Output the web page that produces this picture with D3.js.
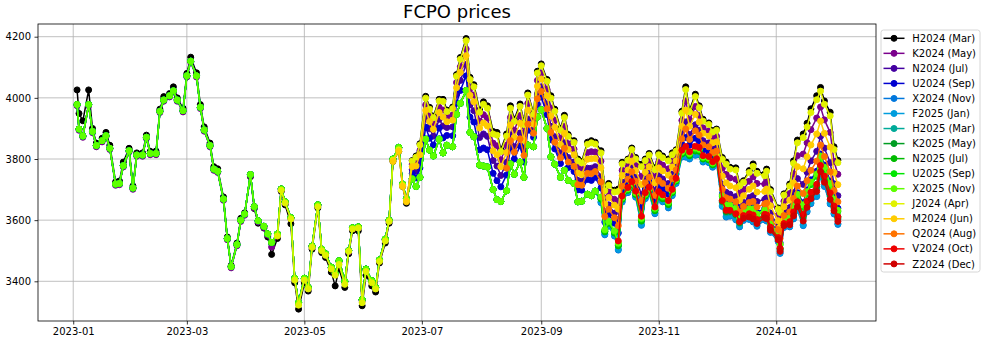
<!DOCTYPE html>
<html><head><meta charset="utf-8">
<script src="https://cdn.jsdelivr.net/npm/d3@7"></script>
<style>body{margin:0;background:#fff;} svg{display:block;font-family:"DejaVu Sans",sans-serif;}</style>
</head><body><svg id="chart" width="989" height="347"></svg>
<script>
const dates = [
"2023-01-03","2023-01-04","2023-01-06","2023-01-09","2023-01-11","2023-01-13","2023-01-16","2023-01-18","2023-01-20","2023-01-23","2023-01-25","2023-01-27","2023-01-30",
"2023-02-01","2023-02-03","2023-02-06","2023-02-08","2023-02-10","2023-02-13","2023-02-15","2023-02-17","2023-02-20","2023-02-22","2023-02-24","2023-02-27",
"2023-03-01","2023-03-03","2023-03-06","2023-03-08","2023-03-10","2023-03-13","2023-03-15","2023-03-17","2023-03-20","2023-03-22","2023-03-24","2023-03-27","2023-03-29","2023-03-31",
"2023-04-03","2023-04-05","2023-04-07","2023-04-10","2023-04-12","2023-04-14","2023-04-17","2023-04-19","2023-04-21","2023-04-24","2023-04-26","2023-04-28",
"2023-05-01","2023-05-03","2023-05-05","2023-05-08","2023-05-10","2023-05-12","2023-05-15","2023-05-17","2023-05-19","2023-05-22","2023-05-24","2023-05-26","2023-05-29","2023-05-31",
"2023-06-02","2023-06-05","2023-06-07","2023-06-09","2023-06-12","2023-06-14","2023-06-16","2023-06-19","2023-06-21","2023-06-23","2023-06-26","2023-06-28","2023-06-30",
"2023-07-03","2023-07-05","2023-07-07","2023-07-10","2023-07-12","2023-07-14","2023-07-17","2023-07-19","2023-07-21","2023-07-24","2023-07-26","2023-07-28","2023-07-31",
"2023-08-02","2023-08-04","2023-08-07","2023-08-09","2023-08-11","2023-08-14","2023-08-16","2023-08-18","2023-08-21","2023-08-23","2023-08-25","2023-08-28","2023-08-30",
"2023-09-01","2023-09-04","2023-09-06","2023-09-08","2023-09-11","2023-09-13","2023-09-15","2023-09-18","2023-09-20","2023-09-22","2023-09-25","2023-09-27","2023-09-29",
"2023-10-02","2023-10-04","2023-10-06","2023-10-09","2023-10-11","2023-10-13","2023-10-16","2023-10-18","2023-10-20","2023-10-23","2023-10-25","2023-10-27","2023-10-30",
"2023-11-01","2023-11-03","2023-11-06","2023-11-08","2023-11-10","2023-11-13","2023-11-15","2023-11-17","2023-11-20","2023-11-22","2023-11-24","2023-11-27","2023-11-29",
"2023-12-01","2023-12-04","2023-12-06","2023-12-08","2023-12-11","2023-12-13","2023-12-15","2023-12-18","2023-12-20","2023-12-22","2023-12-26","2023-12-27","2023-12-29",
"2024-01-02","2024-01-03","2024-01-05","2024-01-08","2024-01-10","2024-01-12","2024-01-15","2024-01-17","2024-01-19","2024-01-22","2024-01-24","2024-01-26","2024-01-29","2024-01-31",
"2024-02-02"];

const seriesLabels = ["H2024 (Mar)","K2024 (May)","N2024 (Jul)","U2024 (Sep)","X2024 (Nov)","F2025 (Jan)","H2025 (Mar)","K2025 (May)","N2025 (Jul)","U2025 (Sep)","X2025 (Nov)","J2024 (Apr)","M2024 (Jun)","Q2024 (Aug)","V2024 (Oct)","Z2024 (Dec)"];
const seriesStarts = ["2023-01-03","2023-01-03","2023-01-03","2023-01-03","2023-01-03","2023-01-03","2023-01-03","2023-01-03","2023-01-03","2023-01-03","2023-01-03","2023-04-17","2023-06-16","2023-08-14","2023-10-11","2023-12-15"];
const seriesColors = ["#000000","#7b008c","#4400a1","#0000d0","#0077dd","#009ddd","#00aa99","#009d22","#00bb00","#00e600","#5eff00","#e1f200","#ffcc00","#ff7300","#ee0000","#d00000"];

const H2024 = [
4026,3949,3925,4026,3900,3852,3868,3887,3845,3725,3728,3790,3835,
3712,3820,3820,3878,3825,3826,3963,4004,4014,4036,4000,3966,
4080,4133,4082,3978,3905,3852,3775,3768,3676,3545,3452,3525,3606,3624,
3742,3638,3590,3574,3545,3488,3540,3694,3650,3588,3395,3309,
3395,3368,3505,3640,3494,3478,3430,3385,3440,3380,3490,3565,3565,3320,
3420,3385,3365,3460,3525,3590,3792,3825,3710,3655,
3795,3810,3850,
4005,3969,3940,3995,3995,3960,3970,4076,4132,4194,4067,4043,3960,
3987,3974,3890,3887,3831,3882,3974,3930,3980,3920,4016,3950,4087,
4111,4060,4007,3963,3900,3943,3880,3860,3800,3792,3855,3860,3855,
3827,3702,3720,3698,3702,3789,3800,3836,3805,3783,3800,3818,3771,
3820,3810,3800,3820,3830,3956,4036,3960,4012,3974,3930,3918,3893,
3898,3805,3790,3773,3771,3718,3729,3762,3784,3760,3751,3767,3700,
3640,3631,3686,3718,3794,3862,3882,3917,3964,4007,4034,3990,3953,3840,
3796];

const K2024 = [
3974,3894,3871,3974,3886,3840,3856,3872,3831,3714,3716,3774,3823,
3701,3809,3809,3867,3814,3814,3952,3989,4003,4019,3989,3954,
4068,4116,4068,3965,3891,3840,3763,3756,3665,3536,3444,3516,3596,3616,
3745,3640,3594,3576,3551,3512,3551,3698,3656,3604,3406,3326,
3406,3376,3511,3646,3501,3486,3442,3422,3463,3396,3496,3571,3574,3336,
3436,3398,3376,3466,3534,3596,3796,3834,3714,3666,
3783,3790,3828,
3977,3941,3914,3969,3960,3937,3944,4050,4102,4160,4031,4009,3924,
3945,3934,3852,3843,3797,3845,3936,3894,3942,3884,3982,3928,4057,
4081,4028,3967,3927,3868,3907,3850,3832,3772,3766,3821,3824,3823,
3793,3672,3692,3668,3662,3763,3778,3810,3779,3743,3774,3792,3741,
3790,3780,3768,3792,3808,3926,3990,3928,3972,3942,3902,3892,3869,
3874,3770,3750,3738,3734,3687,3700,3727,3742,3720,3718,3730,3669,
3616,3600,3662,3687,3752,3811,3816,3853,3896,3934,3970,3928,3887,3792,
3750];

const N2024 = [
3978,3898,3875,3978,3890,3844,3860,3876,3835,3718,3720,3778,3827,
3705,3813,3813,3871,3818,3818,3956,3993,4007,4023,3993,3958,
4072,4120,4072,3969,3895,3844,3767,3760,3669,3540,3448,3520,3600,3620,
3749,3644,3598,3580,3555,3527,3555,3702,3660,3608,3410,3330,
3410,3380,3515,3650,3505,3490,3446,3426,3467,3400,3500,3575,3578,3340,
3440,3402,3380,3470,3538,3600,3800,3838,3718,3670,
3765,3760,3795,
3935,3899,3875,3930,3908,3903,3905,4011,4057,4109,3977,3958,3870,
3882,3874,3795,3777,3746,3789,3879,3840,3885,3830,3931,3895,4012,
4036,3980,3907,3873,3820,3853,3805,3790,3730,3727,3770,3770,3775,
3742,3627,3650,3623,3602,3724,3745,3771,3740,3683,3735,3753,3696,
3745,3735,3720,3750,3775,3881,3921,3880,3912,3894,3860,3853,3833,
3838,3717,3691,3685,3677,3641,3658,3674,3680,3661,3668,3673,3623,
3580,3554,3626,3641,3690,3736,3717,3757,3794,3825,3874,3836,3788,3719,
3680];

const U2024 = [
3978,3898,3875,3978,3890,3844,3860,3876,3835,3718,3720,3778,3827,
3705,3813,3813,3871,3818,3818,3956,3993,4007,4023,3993,3958,
4072,4120,4072,3969,3895,3844,3767,3760,3669,3540,3448,3520,3600,3620,
3749,3644,3598,3580,3555,3527,3555,3702,3660,3608,3410,3330,
3410,3380,3515,3650,3505,3490,3446,3426,3467,3400,3500,3575,3578,3340,
3440,3402,3380,3470,3538,3600,3800,3838,3718,3670,
3752,3738,3771,
3904,3868,3846,3901,3869,3877,3876,3982,4024,4072,3937,3921,3830,
3836,3830,3753,3729,3709,3748,3837,3800,3843,3790,3894,3871,3979,
4003,3945,3863,3833,3785,3813,3772,3759,3699,3698,3733,3730,3740,
3705,3594,3619,3590,3558,3695,3721,3742,3711,3639,3706,3724,3663,
3712,3702,3685,3719,3751,3848,3870,3845,3868,3859,3829,3824,3807,
3816,3685,3655,3653,3643,3613,3632,3642,3642,3625,3638,3639,3595,
3558,3526,3604,3613,3652,3690,3657,3699,3732,3760,3816,3780,3728,3675,
3639];

const X2024 = [
3978,3898,3875,3978,3890,3844,3860,3876,3835,3718,3720,3778,3827,
3705,3813,3813,3871,3818,3818,3956,3993,4007,4023,3993,3958,
4072,4120,4072,3969,3895,3844,3767,3760,3669,3540,3448,3520,3600,3620,
3749,3644,3598,3580,3555,3527,3555,3702,3660,3608,3410,3330,
3410,3380,3515,3650,3505,3490,3446,3426,3467,3400,3500,3575,3578,3340,
3440,3402,3380,3470,3538,3600,3800,3838,3718,3670,
3735,3710,3740,
3865,3829,3810,3865,3820,3845,3840,3946,3982,4024,3887,3873,3780,
3777,3774,3700,3667,3661,3696,3784,3750,3790,3740,3846,3840,3937,
3961,3900,3807,3783,3740,3763,3730,3720,3660,3662,3685,3680,3695,
3657,3552,3580,3548,3502,3659,3690,3706,3675,3583,3670,3688,3621,
3670,3660,3640,3680,3720,3806,3806,3800,3812,3814,3790,3788,3773,
3788,3645,3610,3613,3601,3578,3599,3602,3594,3580,3601,3597,3560,
3530,3491,3576,3578,3604,3632,3582,3627,3654,3677,3744,3710,3653,3620,
3586];

const F2025 = [
3978,3898,3875,3978,3890,3844,3860,3876,3835,3718,3720,3778,3827,
3705,3813,3813,3871,3818,3818,3956,3993,4007,4023,3993,3958,
4072,4120,4072,3969,3895,3844,3767,3760,3669,3540,3448,3520,3600,3620,
3749,3644,3598,3580,3555,3527,3555,3702,3660,3608,3410,3330,
3410,3380,3515,3650,3505,3490,3446,3426,3467,3400,3500,3575,3578,3340,
3440,3402,3380,3470,3538,3600,3800,3838,3718,3670,
3735,3710,3740,
3865,3829,3810,3865,3820,3845,3840,3946,3982,4024,3887,3873,3780,
3777,3774,3700,3667,3661,3696,3784,3750,3790,3740,3846,3840,3937,
3961,3900,3807,3783,3740,3763,3730,3720,3660,3662,3685,3680,3695,
3660,3555,3583,3551,3505,3662,3693,3709,3678,3586,3673,3691,3624,
3673,3663,3643,3683,3723,3809,3809,3803,3815,3817,3793,3791,3776,
3791,3648,3613,3616,3604,3581,3602,3605,3597,3583,3604,3600,3563,
3533,3494,3579,3581,3607,3635,3585,3630,3657,3680,3747,3713,3656,3623,
3589];

const H2025 = [
3978,3898,3875,3978,3890,3844,3860,3876,3835,3718,3720,3778,3827,
3705,3813,3813,3871,3818,3818,3956,3993,4007,4023,3993,3958,
4072,4120,4072,3969,3895,3844,3767,3760,3669,3540,3448,3520,3600,3620,
3749,3644,3598,3580,3555,3527,3555,3702,3660,3608,3410,3330,
3410,3380,3515,3650,3505,3490,3446,3426,3467,3400,3500,3575,3578,3340,
3440,3402,3380,3470,3538,3600,3800,3838,3718,3670,
3735,3710,3740,
3865,3829,3810,3865,3820,3845,3840,3946,3982,4024,3887,3873,3780,
3777,3774,3700,3667,3661,3696,3784,3750,3790,3740,3846,3840,3937,
3961,3900,3807,3783,3740,3763,3730,3720,3660,3662,3685,3680,3695,
3669,3562,3590,3558,3516,3668,3698,3715,3684,3597,3679,3697,3631,
3680,3670,3651,3690,3728,3816,3822,3811,3826,3825,3800,3797,3781,
3797,3658,3624,3626,3615,3589,3609,3615,3609,3594,3613,3611,3571,
3539,3502,3585,3589,3619,3650,3606,3650,3679,3703,3767,3732,3677,3638,
3603];

const K2025 = [
3978,3898,3875,3978,3890,3844,3860,3876,3835,3718,3720,3778,3827,
3705,3813,3813,3871,3818,3818,3956,3993,4007,4023,3993,3958,
4072,4120,4072,3969,3895,3844,3767,3760,3669,3540,3448,3520,3600,3620,
3749,3644,3598,3580,3555,3527,3555,3702,3660,3608,3410,3330,
3410,3380,3515,3650,3505,3490,3446,3426,3467,3400,3500,3575,3578,3340,
3440,3402,3380,3470,3538,3600,3800,3838,3718,3670,
3735,3710,3740,
3865,3829,3810,3865,3820,3845,3840,3946,3982,4024,3887,3873,3780,
3777,3774,3700,3667,3661,3696,3784,3750,3790,3740,3846,3840,3937,
3961,3900,3807,3783,3740,3763,3730,3720,3660,3662,3685,3680,3695,
3671,3564,3592,3560,3519,3670,3700,3717,3686,3600,3681,3699,3633,
3682,3672,3654,3692,3730,3818,3825,3813,3829,3827,3802,3799,3783,
3800,3661,3628,3629,3618,3592,3612,3618,3613,3598,3616,3615,3574,
3541,3505,3587,3592,3623,3655,3612,3656,3685,3710,3773,3738,3683,3643,
3607];

const N2025 = [
3978,3898,3875,3978,3890,3844,3860,3876,3835,3718,3720,3778,3827,
3705,3813,3813,3871,3818,3818,3956,3993,4007,4023,3993,3958,
4072,4120,4072,3969,3895,3844,3767,3760,3669,3540,3448,3520,3600,3620,
3749,3644,3598,3580,3555,3527,3555,3702,3660,3608,3410,3330,
3410,3380,3515,3650,3505,3490,3446,3426,3467,3400,3500,3575,3578,3340,
3440,3402,3380,3470,3538,3600,3800,3838,3718,3670,
3735,3710,3740,
3865,3829,3810,3865,3820,3845,3840,3946,3982,4024,3887,3873,3780,
3777,3774,3700,3667,3661,3696,3784,3750,3790,3740,3846,3840,3937,
3961,3900,3807,3783,3740,3763,3730,3720,3660,3662,3685,3680,3695,
3669,3562,3590,3558,3516,3668,3698,3715,3684,3597,3679,3697,3631,
3680,3670,3651,3690,3728,3816,3822,3811,3826,3825,3800,3797,3781,
3801,3664,3632,3632,3621,3595,3615,3621,3617,3602,3619,3617,3577,
3543,3508,3589,3595,3627,3660,3618,3662,3691,3717,3779,3744,3689,3646,
3611];

const U2025 = [
3978,3898,3875,3978,3890,3844,3860,3876,3835,3718,3720,3778,3827,
3705,3813,3813,3871,3818,3818,3956,3993,4007,4023,3993,3958,
4072,4120,4072,3969,3895,3844,3767,3760,3669,3540,3448,3520,3600,3620,
3749,3644,3598,3580,3555,3527,3555,3702,3660,3608,3410,3330,
3410,3380,3515,3650,3505,3490,3446,3426,3467,3400,3500,3575,3578,3340,
3440,3402,3380,3470,3538,3600,3800,3838,3718,3670,
3735,3710,3740,
3865,3829,3810,3865,3820,3845,3840,3946,3982,4024,3887,3873,3780,
3777,3774,3700,3667,3661,3696,3784,3750,3790,3740,3846,3840,3937,
3961,3900,3807,3783,3740,3763,3730,3720,3660,3662,3685,3680,3695,
3674,3567,3594,3563,3522,3672,3701,3719,3688,3603,3683,3701,3636,
3685,3675,3656,3694,3731,3821,3829,3816,3832,3830,3804,3801,3785,
3810,3677,3646,3645,3635,3606,3625,3634,3632,3616,3631,3631,3588,
3552,3519,3598,3606,3642,3678,3642,3685,3716,3743,3802,3766,3713,3664,
3628];

const X2025 = [
3978,3898,3875,3978,3890,3844,3860,3876,3835,3718,3720,3778,3827,
3705,3813,3813,3871,3818,3818,3956,3993,4007,4023,3993,3958,
4072,4120,4072,3969,3895,3844,3767,3760,3669,3540,3448,3520,3600,3620,
3749,3644,3598,3580,3555,3527,3555,3702,3660,3608,3410,3330,
3410,3380,3515,3650,3505,3490,3446,3426,3467,3400,3500,3575,3578,3340,
3440,3402,3380,3470,3538,3600,3800,3838,3718,3670,
3735,3710,3740,
3865,3829,3810,3865,3820,3845,3840,3946,3982,4024,3887,3873,3780,
3777,3774,3700,3667,3661,3696,3784,3750,3790,3740,3846,3840,3937,
3961,3900,3807,3783,3740,3763,3730,3720,3660,3662,3685,3680,3695,
3676,3569,3596,3565,3525,3674,3703,3721,3690,3606,3685,3703,3639,
3688,3678,3659,3696,3733,3823,3833,3818,3836,3832,3806,3803,3787,
3813,3681,3650,3649,3639,3609,3628,3638,3637,3620,3634,3635,3591,
3554,3522,3600,3610,3647,3685,3650,3693,3724,3751,3810,3773,3720,3669,
3632];

const J2024 = [
3548,3698,3656,3604,3404,3322,
3404,3375,3511,3644,3500,3485,3440,3420,3455,3390,3498,3571,3574,3330,
3432,3395,3375,3465,3532,3596,3796,3830,3713,3664,
3793,3806,3846,
3999,3963,3935,3990,3988,3955,3965,4071,4126,4187,4060,4036,3953,
3979,3966,3882,3878,3824,3875,3966,3923,3972,3913,4009,3946,4081,
4105,4054,3999,3956,3894,3936,3874,3854,3794,3787,3848,3853,3849,
3820,3696,3714,3692,3694,3784,3796,3831,3800,3775,3795,3813,3765,
3814,3804,3794,3814,3826,3950,4027,3954,4004,3968,3924,3913,3888,
3894,3799,3783,3767,3764,3712,3724,3756,3776,3753,3745,3760,3694,
3636,3625,3682,3712,3786,3853,3870,3905,3952,3994,4022,3979,3941,3831,
3788];

const M2024 = [
3792,3825,3710,3660,
3775,3777,3814,
3959,3923,3897,3952,3937,3922,3927,4033,4083,4138,4008,3987,3901,
3918,3908,3827,3814,3775,3821,3911,3871,3917,3861,3960,3914,4038,
4062,4007,3941,3904,3847,3884,3831,3814,3754,3749,3799,3801,3802,
3771,3653,3674,3649,3636,3746,3764,3793,3762,3717,3757,3775,3722,
3771,3761,3747,3774,3794,3907,3960,3907,3946,3921,3884,3875,3853,
3856,3744,3722,3712,3706,3665,3680,3701,3712,3692,3694,3702,3647,
3598,3578,3644,3665,3722,3775,3768,3807,3846,3882,3924,3884,3839,3756,
3716];

const Q2024 = [
3770,3860,3822,3866,3812,3914,3884,3997,
4021,3964,3887,3855,3804,3835,3790,3776,3716,3714,3753,3752,3759,
3725,3612,3636,3608,3582,3711,3734,3758,3727,3663,3722,3740,3681,
3730,3720,3704,3736,3764,3866,3898,3864,3892,3878,3846,3840,3821,
3826,3701,3673,3669,3660,3627,3645,3658,3661,3643,3653,3656,3609,
3569,3540,3615,3627,3671,3712,3687,3729,3763,3793,3846,3808,3758,3697,
3660];

const V2024 = [
3532,3679,3707,3726,3695,3613,3690,3708,3643,
3693,3683,3664,3701,3737,3829,3841,3824,3842,3838,3811,3808,3791,
3801,3664,3632,3632,3621,3595,3615,3621,3617,3602,3619,3617,3577,
3543,3508,3589,3595,3627,3660,3618,3662,3691,3717,3779,3744,3689,3646,
3611];

const Z2024 = [
3606,3610,3604,3589,3608,3605,3567,
3536,3498,3582,3585,3614,3644,3597,3642,3670,3694,3759,3724,3668,3631,
3596];

const yTicks = [3400, 3600, 3800, 4000, 4200];
const xTickLabels = ["2023-01","2023-03","2023-05","2023-07","2023-09","2023-11","2024-01"];
const chartTitle = "FCPO prices";

// ---- build ----
const seriesValues = [H2024,K2024,N2024,U2024,X2024,F2025,H2025,K2025,N2025,U2025,X2025,J2024,M2024,Q2024,V2024,Z2024];
const parse = d3.utcParse("%Y-%m-%d");
const dateObjs = dates.map(parse);
const series = seriesLabels.map((name, i) => {
  const s = dates.indexOf(seriesStarts[i]);
  const vals = seriesValues[i];
  if (s + vals.length !== dates.length) console.warn(name, s + vals.length, dates.length);
  return {name, color: seriesColors[i],
    points: vals.map((v, k) => ({date: dateObjs[s + k], value: v})).filter(p => p.date)};
});

const L = 38, R = 876, T = 24, B = 321;
const svg = d3.select("#chart");
const x = d3.scaleUtc()
  .domain([new Date(Date.UTC(2022, 11, 13, 17)), new Date(Date.UTC(2024, 1, 21, 19))])
  .range([L, R]);
const y = d3.scaleLinear().domain([3270.2, 4241.5]).range([B, T]);
const xTickDates = xTickLabels.map(s => parse(s + "-01"));

// grid
const grid = svg.append("g");
grid.selectAll("line.gx").data(xTickDates).join("line")
  .attr("x1", d => x(d)).attr("x2", d => x(d)).attr("y1", T).attr("y2", B)
  .attr("stroke", "#b0b0b0").attr("stroke-width", 0.8);
grid.selectAll("line.gy").data(yTicks).join("line")
  .attr("x1", L).attr("x2", R).attr("y1", d => y(d)).attr("y2", d => y(d))
  .attr("stroke", "#b0b0b0").attr("stroke-width", 0.8);

// clip
svg.append("defs").append("clipPath").attr("id", "clip")
  .append("rect").attr("x", L).attr("y", T).attr("width", R - L).attr("height", B - T);

const plot = svg.append("g").attr("clip-path", "url(#clip)");
const line = d3.line().x(d => x(d.date)).y(d => y(d.value));
series.forEach(s => {
  const g = plot.append("g");
  g.append("path").datum(s.points).attr("d", line)
    .attr("fill", "none").attr("stroke", s.color).attr("stroke-width", 1.5)
    .attr("stroke-linejoin", "round");
  g.selectAll("circle").data(s.points).join("circle")
    .attr("cx", d => x(d.date)).attr("cy", d => y(d.value)).attr("r", 3)
    .attr("fill", s.color).attr("stroke", s.color).attr("stroke-width", 1);
});

// frame
svg.append("rect").attr("x", L).attr("y", T).attr("width", R - L).attr("height", B - T)
  .attr("fill", "none").attr("stroke", "#000").attr("stroke-width", 0.8);

// axes
const xAxis = d3.axisBottom(x).tickValues(xTickDates).tickFormat(d3.utcFormat("%Y-%m"))
  .tickSize(3.5).tickPadding(3.5);
const gx = svg.append("g").attr("transform", `translate(0,${B})`).call(xAxis);
const yAxis = d3.axisLeft(y).tickValues(yTicks).tickFormat(d3.format("d")).tickSize(3.5).tickPadding(3.5);
const gy = svg.append("g").attr("transform", `translate(${L},0)`).call(yAxis);
[gx, gy].forEach(g => {
  g.select(".domain").remove();
  g.selectAll("line").attr("stroke", "#000").attr("stroke-width", 0.8);
  g.selectAll("text").attr("font-size", 10).attr("fill", "#000")
    .attr("font-family", '"DejaVu Sans", sans-serif');
});

// title
svg.append("text").attr("x", (L + R) / 2).attr("y", 18).attr("text-anchor", "middle")
  .attr("font-size", 18).attr("fill", "#000").text(chartTitle);

// legend
const lg = svg.append("g");
lg.append("rect").attr("x", 881).attr("y", 30).attr("width", 99).attr("height", 242)
  .attr("rx", 2.5).attr("fill", "#fff").attr("fill-opacity", 0.8)
  .attr("stroke", "#cccccc").attr("stroke-width", 0.8);
series.forEach((s, i) => {
  const yy = 38.3 + 15.04 * i;
  lg.append("line").attr("x1", 883.5).attr("x2", 904.5).attr("y1", yy).attr("y2", yy)
    .attr("stroke", s.color).attr("stroke-width", 1.5);
  lg.append("circle").attr("cx", 894).attr("cy", yy).attr("r", 3)
    .attr("fill", s.color).attr("stroke", s.color).attr("stroke-width", 1);
  lg.append("text").attr("x", 912.3).attr("y", yy + 3.6).attr("font-size", 10)
    .attr("fill", "#000").text(s.name);
});
</script></body></html>
